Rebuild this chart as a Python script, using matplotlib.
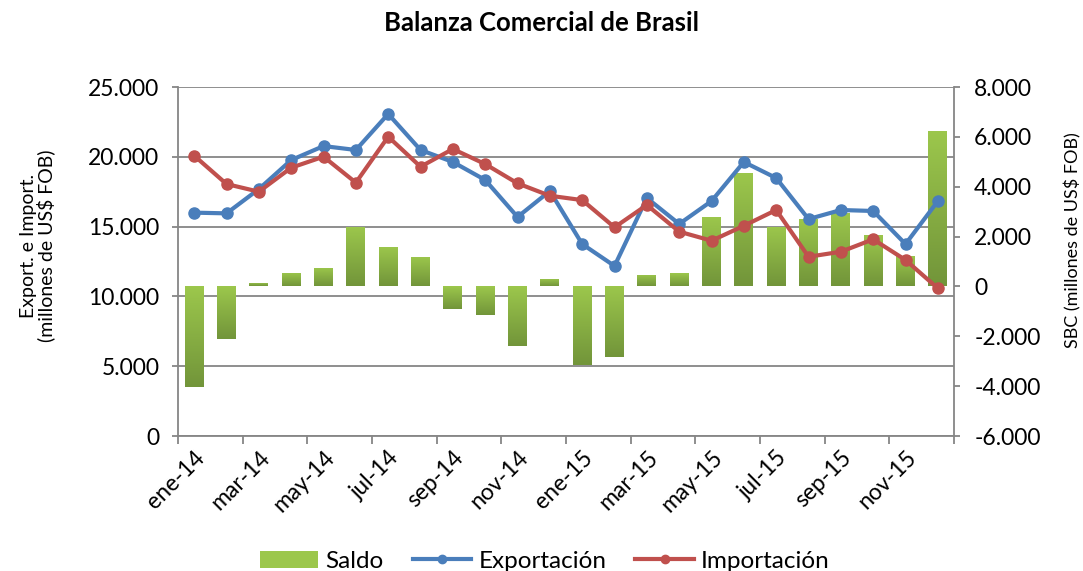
import numpy as np
import matplotlib
matplotlib.use("Agg")
import matplotlib.pyplot as plt
from matplotlib.patches import Patch
from matplotlib.lines import Line2D
from matplotlib.colors import LinearSegmentedColormap

plt.rcParams['font.family'] = ['Lato', 'DejaVu Sans']

meses = ["ene-14", "feb-14", "mar-14", "abr-14", "may-14", "jun-14",
         "jul-14", "ago-14", "sep-14", "oct-14", "nov-14", "dic-14",
         "ene-15", "feb-15", "mar-15", "abr-15", "may-15", "jun-15",
         "jul-15", "ago-15", "sep-15", "oct-15", "nov-15", "dic-15"]
exportacion = [16000, 15950, 17690, 19770, 20770, 20490, 23070, 20490,
               19630, 18340, 15690, 17550, 13750, 12180, 17050, 15190,
               16830, 19630, 18480, 15540, 16190, 16120, 13750, 16830]
importacion = [20080, 18050, 17500, 19220, 20010, 18150, 21440, 19290,
               20560, 19480, 18100, 17210, 16900, 14950, 16550, 14640,
               13990, 15060, 16190, 12840, 13200, 14090, 12610, 10580]
saldo = [-4035, -2110, 150, 550, 750, 2370, 1590, 1190,
         -920, -1160, -2400, 310, -3150, -2850, 470, 520,
         2800, 4560, 2390, 2710, 2940, 2050, 1240, 6240]

azul = "#4a7ebb"
rojo = "#c0504d"
gris = "#868686"
verde_claro = "#9cc74c"
verde_oscuro = "#72953a"

x = np.arange(len(meses))

fig = plt.figure(figsize=(10.83, 5.71), dpi=100)
ax1 = fig.add_axes([0.1644, 0.2364, 0.7165, 0.6112])
ax2 = ax1.twinx()
ax3 = ax1.twinx()

# grid and left axis
ax1.set_ylim(0, 25000)
ax1.set_xlim(-0.5, len(meses) - 0.5)
ax1.set_yticks(np.arange(0, 25001, 5000))
ax1.set_yticklabels(["{:,}".format(v).replace(",", ".") for v in range(0, 25001, 5000)])
ax1.yaxis.grid(True, color=gris, linewidth=1.3)
ax1.set_axisbelow(True)

# bars with gradient on right axis
ax2.set_ylim(-6000, 8000)
ax2.set_xlim(-0.5, len(meses) - 0.5)
bars = ax2.bar(x, saldo, width=0.58, color=verde_claro, linewidth=0)
cmap = LinearSegmentedColormap.from_list("verde", [verde_oscuro, verde_claro])
grad = np.linspace(0, 1, 100).reshape(-1, 1)
for b in bars:
    bx, by = b.get_x(), b.get_y()
    bw, bh = b.get_width(), b.get_height()
    y0, y1 = min(by, by + bh), max(by, by + bh)
    im = ax2.imshow(grad, cmap=cmap, aspect="auto", origin="lower",
                    extent=[bx, bx + bw, y0, y1], zorder=2)
    im.set_clip_path(b)
ax2.set_ylim(-6000, 8000)
ax2.set_xlim(-0.5, len(meses) - 0.5)
ax2.set_yticks(np.arange(-6000, 8001, 2000))
ax2.set_yticklabels(["{:,}".format(v).replace(",", ".") for v in range(-6000, 8001, 2000)])

# lines
ax3.set_ylim(0, 25000)
ax3.set_xlim(-0.5, len(meses) - 0.5)
ax3.plot(x, exportacion, color=azul, linewidth=3, marker="o", markersize=8)
ax3.plot(x, importacion, color=rojo, linewidth=3, marker="o", markersize=8)
ax3.axis("off")

# x axis ticks
ax1.set_xticks(np.arange(-0.5, len(meses), 2))
ax1.set_xticklabels([])
ax1.set_xticks(x[::2], minor=True)
ax1.set_xticklabels(meses[::2], minor=True, rotation=45, ha="right",
                    rotation_mode="anchor", fontsize=16.5)
ax1.tick_params(axis="x", which="minor", length=0, pad=8)
ax1.tick_params(axis="x", which="major", length=6, width=1.3, color=gris)
ax1.tick_params(axis="y", length=4.5, width=1.3, color=gris, labelsize=16.5, pad=9)
ax2.tick_params(axis="y", length=4.5, width=1.3, color=gris, labelsize=16.5, pad=10)

for ax in (ax1, ax2):
    for s in ax.spines.values():
        s.set_visible(False)
ax1.spines["left"].set_visible(True)
ax1.spines["bottom"].set_visible(True)
ax2.spines["right"].set_visible(True)
for s in (ax1.spines["left"], ax1.spines["bottom"], ax2.spines["right"]):
    s.set_color(gris)
    s.set_linewidth(1.3)

ax1.set_ylabel("Export. e Import.\n(millones de US$ FOB)", fontsize=14, linespacing=1.0)
ax1.yaxis.set_label_coords(-0.158, 0.544)
ax2.set_ylabel("SBC (millones de US$ FOB)", fontsize=13)
ax2.yaxis.set_label_coords(1.142, 0.562)

fig.suptitle("Balanza Comercial de Brasil", fontsize=18.5, fontweight="bold", y=0.98)

handles = [Patch(facecolor=verde_claro, edgecolor="none"),
           Line2D([], [], color=azul, linewidth=3, marker="o", markersize=6),
           Line2D([], [], color=rojo, linewidth=3, marker="o", markersize=6)]
fig.legend(handles, ["Saldo", "Exportación", "Importación"], loc="lower center",
           bbox_to_anchor=(0.503, -0.04), ncol=3, frameon=False, fontsize=17.5,
           handlelength=2.4, columnspacing=1.2, handletextpad=0.3)

fig.savefig("out.png", dpi=100)
